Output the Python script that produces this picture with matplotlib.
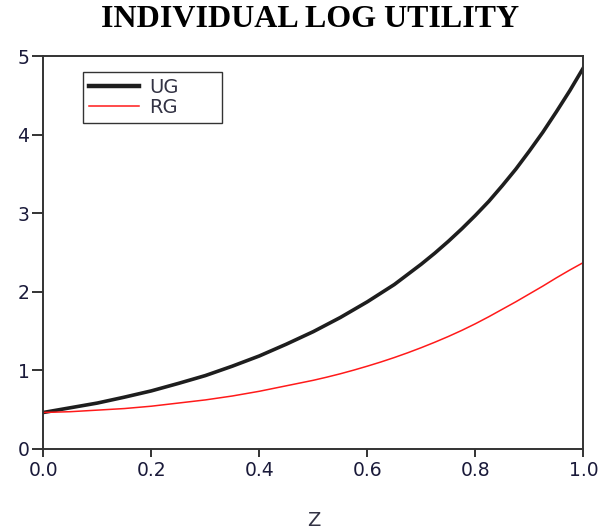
import numpy as np
import matplotlib
matplotlib.use("Agg")
import matplotlib.pyplot as plt

# z values and the two utility curves
z = [0.00, 0.05, 0.10, 0.15, 0.20, 0.25, 0.30, 0.35, 0.40, 0.45, 0.50,
     0.525, 0.55, 0.575, 0.60, 0.625, 0.65, 0.675, 0.70, 0.725, 0.75,
     0.775, 0.80, 0.825, 0.85, 0.875, 0.90, 0.925, 0.95, 0.975, 1.00]
ug = [0.46, 0.52, 0.58, 0.655, 0.735, 0.83, 0.93, 1.05, 1.18, 1.33, 1.49,
      1.58, 1.67, 1.77, 1.87, 1.98, 2.09, 2.22, 2.35, 2.49, 2.64,
      2.80, 2.97, 3.15, 3.35, 3.56, 3.79, 4.03, 4.29, 4.56, 4.85]
rg = [0.46, 0.47, 0.49, 0.51, 0.54, 0.58, 0.62, 0.67, 0.73, 0.80, 0.87,
      0.91, 0.953, 1.00, 1.05, 1.103, 1.16, 1.221, 1.286, 1.355, 1.428,
      1.506, 1.59, 1.68, 1.775, 1.87, 1.97, 2.07, 2.175, 2.275, 2.37]

xticks = [0.0, 0.2, 0.4, 0.6, 0.8, 1.0]
yticks = [0, 1, 2, 3, 4, 5]

fig = plt.figure(figsize=(6.05, 5.29), dpi=100)
ax = fig.add_axes([0.0716, 0.152, 0.8926, 0.742])

ax.plot(z, ug, color="#1e1e1e", linewidth=2.6, label="UG", solid_joinstyle="round")
ax.plot(z, rg, color="#ff1a1a", linewidth=1.1, label="RG", solid_joinstyle="round")

ax.set_xlim(0, 1)
ax.set_ylim(0, 5)
ax.set_xticks(xticks)
ax.set_xticklabels(["%.1f" % v for v in xticks])
ax.set_yticks(yticks)

for s in ax.spines.values():
    s.set_linewidth(1.4)
    s.set_color("#333333")

ax.tick_params(direction="out", width=1.4, color="#333333",
               labelsize=13.5, labelcolor="#1a1a3a")
ax.tick_params(axis="x", length=6, pad=3)
ax.tick_params(axis="y", length=8, pad=2)

ax.set_xlabel("Z", fontsize=14, color="#333344", labelpad=22)

fig.suptitle("INDIVIDUAL LOG UTILITY", x=0.512, y=0.99, fontsize=23,
             fontweight="bold", family="Liberation Serif")

leg = ax.legend(loc="upper left", bbox_to_anchor=(0.0736, 0.959, 0.2576, 0.0),
                mode="expand", prop={"size": 14},
                frameon=True, fancybox=False, borderpad=0.3, handlelength=2.6,
                labelspacing=0.05, handletextpad=0.5, borderaxespad=0)
leg.get_frame().set_edgecolor("black")
leg.get_frame().set_linewidth(1.0)
leg.get_lines()[0].set_linewidth(3.2)
for t in leg.get_texts():
    t.set_color("#333344")

fig.savefig("out.png", dpi=100)
